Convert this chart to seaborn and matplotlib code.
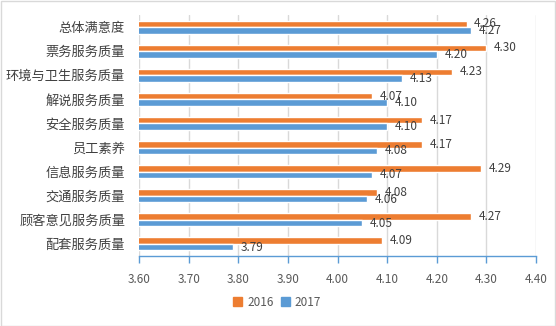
import matplotlib
matplotlib.use("Agg")
import matplotlib.pyplot as plt
import seaborn as sns
import pandas as pd
from matplotlib.patches import Rectangle

categories = ["总体满意度", "票务服务质量", "环境与卫生服务质量", "解说服务质量", "安全服务质量",
              "员工素养", "信息服务质量", "交通服务质量", "顾客意见服务质量", "配套服务质量"]
values_2016 = [4.26, 4.30, 4.23, 4.07, 4.17, 4.17, 4.29, 4.08, 4.27, 4.09]
values_2017 = [4.27, 4.20, 4.13, 4.10, 4.10, 4.08, 4.07, 4.06, 4.05, 3.79]
series = ["2016", "2017"]
xticks = [3.60, 3.70, 3.80, 3.90, 4.00, 4.10, 4.20, 4.30, 4.40]

df = pd.DataFrame({
    "category": categories * 2,
    "value": values_2016 + values_2017,
    "year": [series[0]] * len(categories) + [series[1]] * len(categories),
})

sns.set_theme(style="white")
plt.rcParams['font.family'] = ['Noto Sans CJK SC', 'DejaVu Sans']

fig = plt.figure(figsize=(5.56, 3.26), dpi=100)
ax = fig.add_axes([139/556, 1 - 256/326, (536-139)/556, (256-15)/326])

palette = {"2016": "#ED7D31", "2017": "#5B9BD5"}
sns.barplot(data=df, y="category", x="value", hue="year", order=categories,
            hue_order=series, palette=palette, width=0.54, ax=ax, orient="h",
            saturation=1, legend=False)

ax.set_xlim(3.6, 4.4)
ax.set_ylim(len(categories) - 0.5, -0.5)
ax.set_xticks(xticks)
ax.set_xticklabels([f"{t:.2f}" for t in xticks], fontsize=8.5, color="#595959")
ax.tick_params(axis="x", bottom=True, length=5, width=1, color="#5B9BD5", direction="out", pad=7)
ax.tick_params(axis="y", left=False, length=0, pad=10, labelsize=9.5, labelcolor="#404040")
ax.set_xlabel("")
ax.set_ylabel("")
ax.grid(axis="x", color="#D9D9D9", linewidth=1)
ax.set_axisbelow(True)
for s in ["top", "right"]:
    ax.spines[s].set_visible(False)
ax.spines["left"].set_visible(False)
ax.spines["bottom"].set_color("#5B9BD5")
ax.spines["bottom"].set_linewidth(1)

for cont in ax.containers:
    ax.bar_label(cont, fmt="%.2f", padding=5.5, fontsize=8.5, color="#404040")

handles = [Rectangle((0, 0), 1, 1, color=palette[s]) for s in series]
fig.legend(handles, series, loc="center", bbox_to_anchor=(277/556, 1 - 302/326),
           ncol=2, frameon=False, fontsize=8.5, handlelength=0.8, handleheight=0.8,
           handletextpad=0.4, columnspacing=0.6, labelcolor="#595959")

fig.patches.append(Rectangle((0.5/556, 0.5/326), 1 - 1.5/556, 1 - 1.5/326, transform=fig.transFigure,
                             fill=False, edgecolor="#D9D9D9", linewidth=1))

fig.savefig("out.png", dpi=100, facecolor="white")
